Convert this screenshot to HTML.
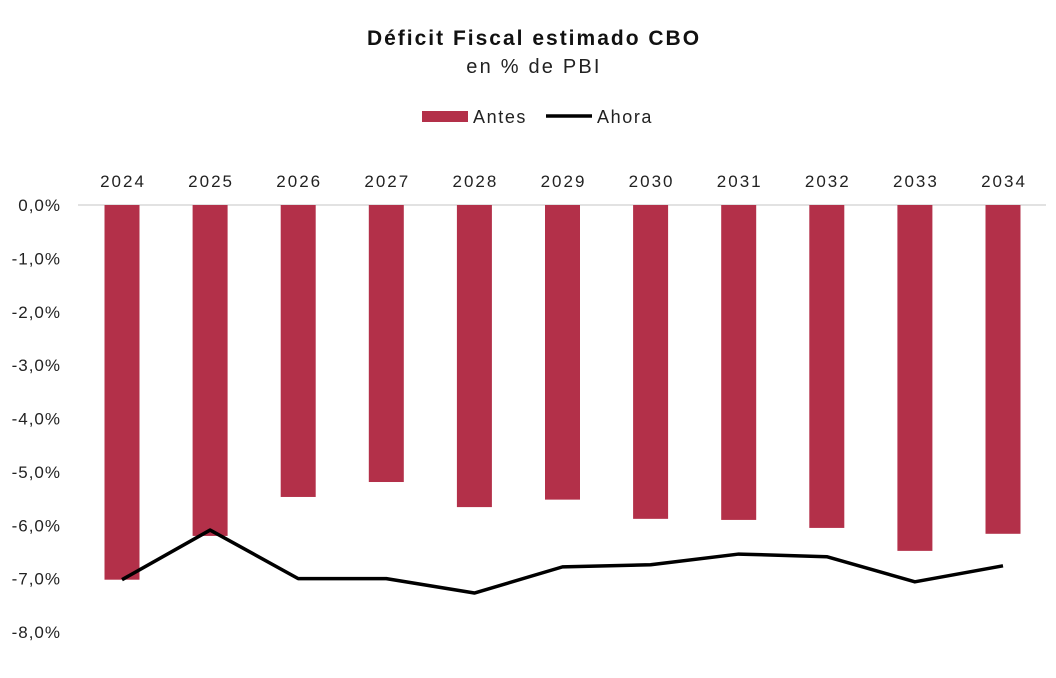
<!DOCTYPE html>
<html><head><meta charset="utf-8"><style>
body{margin:0;background:#fff;font-family:"Liberation Sans",sans-serif;}
svg{display:block}
</style></head><body>
<svg width="1056" height="678">
<text x="534" y="45" text-anchor="middle" font-size="21" font-weight="bold" fill="#111" letter-spacing="2">Déficit Fiscal estimado CBO</text>
<text x="534" y="73" text-anchor="middle" font-size="20" fill="#222" letter-spacing="2.2">en % de PBI</text>
<g>
<rect x="422" y="111" width="46" height="11" fill="#b33049"/>
<text x="473" y="123" font-size="18" fill="#222" letter-spacing="1.6">Antes</text>
<line x1="546" y1="116" x2="592" y2="116" stroke="#000" stroke-width="3.5"/>
<text x="597" y="123" font-size="18" fill="#222" letter-spacing="1.6">Ahora</text>
</g>
<g id="plot"></g>
</svg>
<script>
const years=["2024","2025","2026","2027","2028","2029","2030","2031","2032","2033","2034"];
const antes=[-7.02,-6.2,-5.47,-5.19,-5.66,-5.52,-5.88,-5.9,-6.05,-6.48,-6.16];
const ahora=[-7.02,-6.09,-7.0,-7.0,-7.27,-6.78,-6.74,-6.54,-6.59,-7.06,-6.76];
const ticks=[0,-1,-2,-3,-4,-5,-6,-7,-8];
const NS="http://www.w3.org/2000/svg";
const g=document.getElementById('plot');
const y=v=>205-v*(427/8);
const x=i=>122+i*88.1;
function el(t,a){const e=document.createElementNS(NS,t);for(const k in a)e.setAttribute(k,a[k]);g.appendChild(e);return e;}
ticks.forEach(t=>{
 const tx=el('text',{x:61,y:y(t)+6,'text-anchor':'end','font-size':17,fill:'#222','letter-spacing':1});
 tx.textContent=t.toFixed(1).replace('.',',').replace('-0,0','0,0')+'%';
 
 
});
const zl=el('line',{x1:78,x2:1046,y1:y(0),y2:y(0),stroke:'#d9d9d9','stroke-width':1.5});


years.forEach((yr,i)=>{
 const t=el('text',{x:x(i)+1,y:187,'text-anchor':'middle','font-size':17,fill:'#222','letter-spacing':2});
 t.textContent=yr;
 
 
 const b=el('rect',{x:x(i)-17.5,y:y(0),width:35,height:y(antes[i])-y(0),fill:'#b33049'});
 
 
});
const p=el('polyline',{points:ahora.map((v,i)=>x(i)+','+y(v)).join(' '),fill:'none',stroke:'#000','stroke-width':3.5,'stroke-linejoin':'round'});


</script>
</body></html>
